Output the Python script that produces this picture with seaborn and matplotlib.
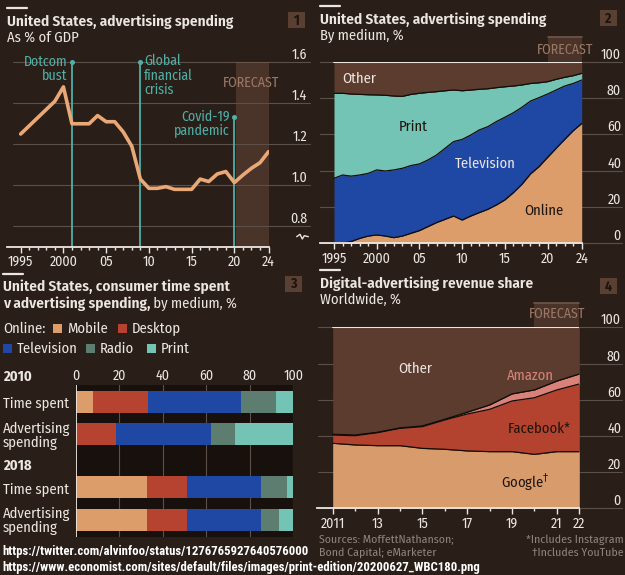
import matplotlib
matplotlib.use("Agg")
import matplotlib.pyplot as plt
from matplotlib.patches import Rectangle
from matplotlib.lines import Line2D
import seaborn as sns
import numpy as np
import pandas as pd

# ---------------- data ----------------
# Panel 1: US advertising spending, % of GDP
years1 = list(range(1995, 2025))
ad_gdp = [1.25, 1.29, 1.33, 1.37, 1.41, 1.48, 1.30, 1.30, 1.30, 1.34,
          1.31, 1.31, 1.26, 1.19, 1.03, 0.985, 0.985, 0.993, 0.98, 0.98,
          0.98, 1.03, 1.018, 1.055, 1.067, 1.013, 1.05, 1.083, 1.11, 1.164]
events = ["Dotcom\nbust", "Global\nfinancial\ncrisis", "Covid-19\npandemic"]
event_years = [2001, 2009, 2020]
event_tops = [1.6, 1.6, 1.335]
p1_yticks = [0.8, 1.0, 1.2, 1.4, 1.6]
p1_ylabels = ["0.8", "1.0", "1.2", "1.4", "1.6"]

# Panel 2: US advertising spending by medium, %
years2 = list(range(1995, 2025))
online = [0, 0, 1, 2.7, 4, 4.6, 4, 3.1, 4, 5.5, 7, 9.2, 11.4, 13.2, 15, 12.8,
          15, 16.9, 18.7, 21.1, 23.9, 27.9, 32.5, 38.2, 42.2, 47.3, 52.3, 57.2, 62, 66]
television = [35.8, 37.6, 36.0, 34.9, 34.5, 35.8, 35.8, 37.3, 37.3, 37.3, 36.7, 36.7,
              37.2, 39.1, 41.0, 44.4, 44.6, 45.5, 45.5, 45.9, 45.5, 44.0, 42.4, 40.1,
              38.0, 34.9, 32.1, 29.4, 26.0, 23.9]
print_ = [46.8, 45.0, 45.2, 44.4, 43.3, 41.3, 41.7, 40.7, 39.6, 39.2, 38.9, 37.2,
          34.9, 31.7, 28.4, 26.8, 24.8, 22.4, 20.9, 18.7, 16.8, 14.7, 12.3, 9.7,
          8.2, 6.8, 5.9, 4.8, 4.3, 3.7]
other2 = [17.4, 17.4, 17.8, 18, 18.2, 18.3, 18.5, 18.9, 19.1, 18, 17.4, 16.9, 16.5,
          16, 15.6, 16, 15.6, 15.2, 14.9, 14.3, 13.8, 13.4, 12.8, 12, 11.6, 11, 9.7,
          8.6, 7.7, 6.4]
time_ticks = [1995, 2000, 2005, 2010, 2015, 2020, 2024]
time_labels = ["1995", "2000", "05", "10", "15", "20", "24"]

# Panel 3: time spent v advertising spending, %
media = ["Mobile", "Desktop", "Television", "Radio", "Print"]
time_2010 = [8, 25, 43, 16, 8]
ad_2010 = [0, 18.6, 43.4, 11.2, 26.8]
time_2018 = [32.7, 18.6, 33.9, 12.1, 2.7]
ad_2018 = [32.7, 18.6, 33.9, 8.1, 6.7]
row_labels = ["Time spent", "Advertising\nspending", "Time spent", "Advertising\nspending"]
p3_ticks = [0, 20, 40, 60, 80, 100]

# Panel 4: digital-advertising revenue share, worldwide %
years4 = list(range(2011, 2023))
google = [35.9, 35, 34.6, 34.6, 33.1, 32.6, 31.7, 31.3, 31.3, 29.8, 31.3, 31.3]
facebook = [4.6, 5.1, 7.2, 9.6, 12.0, 16.2, 20.4, 23.4, 28.0, 31.3, 34.1, 37.4]
amazon = [0.4, 0.4, 0.2, 0.2, 0.4, 0.4, 1.0, 2.4, 3.9, 4.3, 4.9, 5.5]
p4_ticks = [2011, 2013, 2015, 2017, 2019, 2021, 2022]
p4_labels = ["2011", "13", "15", "17", "19", "21", "22"]
pct_ticks = [0, 20, 40, 60, 80, 100]

# ---------------- style ----------------
W, H = 625, 575
sns.set_theme(style="dark")
FONT = ["Fira Sans Condensed", "DejaVu Sans"]
plt.rcParams["font.family"] = FONT

BG = "#2a1f18"
GRID = "#5c5048"
TXT = "#ece6e1"
DARK = "#1d140e"
TEAL = "#4fb0a7"
LINEC = "#eaa877"
FBOX = "#4a3328"
FLINE = "#70574a"
FTXT = "#9b7866"
TAB = "#5a3f33"
GREY = "#8f837b"
C_ONLINE = "#dc9d6b"
C_TV = "#1f48a5"
C_PRINT = "#74c4b6"
C_OTHER = "#5b3c2f"
C_DESK = "#b5432f"
C_RADIO = "#5d7d71"
C_GOOGLE = "#d89c6c"
C_FB = "#b3432e"
C_AMZ = "#d9827a"
EDGE = "#120c08"
TITLE_FS = 11

fig = plt.figure(figsize=(W / 100, H / 100), dpi=100, facecolor=BG)


def add_ax(l, t, r, b):
    ax = fig.add_axes([l / W, 1 - b / H, (r - l) / W, (b - t) / H])
    ax.set_facecolor("none")
    ax.grid(False)
    for s in ax.spines.values():
        s.set_visible(False)
    return ax


def ftext(x, y, s, **kw):
    kw.setdefault("color", TXT)
    return fig.text(x / W, 1 - y / H, s, **kw)


def frect(x0, y0, x1, y1, **kw):
    fig.add_artist(Rectangle((x0 / W, 1 - y1 / H), (x1 - x0) / W, (y1 - y0) / H,
                             transform=fig.transFigure, **kw))


def fline(xs, ys, **kw):
    fig.add_artist(Line2D([x / W for x in xs], [1 - y / H for y in ys],
                          transform=fig.transFigure, **kw))


def time_axis(ax, majors, labels, minors):
    ax.spines["bottom"].set_visible(True)
    ax.spines["bottom"].set_color(TXT)
    ax.spines["bottom"].set_linewidth(1.3)
    ax.spines["bottom"].set_zorder(5)
    ax.set_xticks(majors)
    ax.set_xticklabels(labels)
    ax.set_xticks(minors, minor=True)
    ax.tick_params(axis="x", which="major", length=4.5, width=1, color=TXT,
                   pad=1.5, labelsize=10, labelcolor=TXT, bottom=True)
    ax.tick_params(axis="x", which="minor", length=2.5, width=1, color=TXT, bottom=True)


def right_axis(ax, ticks, labels, ax_l, ax_r, g_l, g_r, lab_r):
    ax.yaxis.tick_right()
    ax.set_yticks(ticks)
    ax.set_yticklabels(labels)
    ax.tick_params(axis="y", length=0, pad=(lab_r - ax_r) * 0.72,
                   labelsize=10, labelcolor=TXT)
    for lab in ax.get_yticklabels():
        lab.set_ha("right")
        lab.set_va("bottom")
    w = ax_r - ax_l
    for t in ticks:
        ax.axhline(t, xmin=(g_l - ax_l) / w, xmax=(g_r - ax_l) / w, color=GRID,
                   lw=0.8, zorder=0.5, clip_on=False)


def header(x, y_base, title, sub, num, tabx, taby):
    fline([x, x + 20], [y_base - 18, y_base - 18], color=TXT, lw=1.6)
    ftext(x, y_base, title, fontsize=TITLE_FS, fontweight="semibold", va="baseline")
    if sub:
        ftext(x, y_base + 16, sub, fontsize=10.5, va="baseline")
    frect(tabx, taby, tabx + 17, taby + 16, color=TAB, lw=0)
    ftext(tabx + 8.5, taby + 8.5, num, fontsize=10, fontweight="bold", color=DARK,
          ha="center", va="center")


# ---------------- panel 1 ----------------
L1, T1, R1, B1 = 7, 62.3, 269, 246.7
ax1 = add_ax(L1, T1, R1, B1)
ax1.set_xlim(1993.4, 2024.05)
ax1.set_ylim(0.7, 1.6)
ax1.axvspan(2020.2, 2024.05, color=FBOX, lw=0, zorder=0.2)
right_axis(ax1, p1_yticks, p1_ylabels, L1, R1, 13, 310, 307)
ax1.plot([2020.2, 2024.05], [1.6, 1.6], color=FLINE, lw=1.2, zorder=0.6)
ax1.text(2021.93, 1.499, "FORECAST", color=FTXT, fontsize=10, ha="center", va="center")
for lab, yr, top in zip(events, event_years, event_tops):
    ax1.plot([yr, yr], [0.7, top], color=TEAL, lw=1.3, zorder=2)
    ax1.plot([yr], [top], "o", color=TEAL, ms=2.6, zorder=2, clip_on=False)
    if yr == 2009:
        ax1.text(yr + 0.45, top + 0.04, lab, color=TEAL, fontsize=10, ha="left",
                 va="top", linespacing=1.0)
    else:
        ax1.text(yr - 0.5, top + 0.036, lab, color=TEAL, fontsize=10, ha="right",
                 va="top", linespacing=1.0, multialignment="right")
df1 = pd.DataFrame({"year": years1, "share": ad_gdp})
sns.lineplot(data=df1, x="year", y="share", ax=ax1, color=LINEC, lw=2.6, zorder=3)
ax1.set_xlabel("")
ax1.set_ylabel("")
time_axis(ax1, time_ticks, time_labels, years1)
# axis break symbol
zx = [296.7, 300, 302.3, 304.3, 308.3]
zy = [236.7, 234.3, 239, 235.7, 236.7]
fline(zx, zy, color=TXT, lw=1.0)
header(7, 25.7, "United States, advertising spending", "As % of GDP", "1", 288, 12)

# ---------------- panel 2 ----------------
L2, T2, R2, B2 = 320, 61.7, 581.7, 243.3
ax2 = add_ax(L2, T2, R2, B2)
ax2.set_xlim(1993.36, 2024)
ax2.set_ylim(0, 100)
right_axis(ax2, pct_ticks, [str(t) for t in pct_ticks], L2, R2, 320, 622, 621)
y = np.array(years2)
c1 = np.array(online)
c2 = c1 + np.array(television)
c3 = c2 + np.array(print_)
c4 = c3 + np.array(other2)
ax2.fill_between(y, 0, c1, color=C_ONLINE, lw=0, zorder=1)
ax2.fill_between(y, c1, c2, color=C_TV, lw=0, zorder=1)
ax2.fill_between(y, c2, c3, color=C_PRINT, lw=0, zorder=1)
ax2.fill_between(y, c3, c4, color=C_OTHER, lw=0, zorder=1)
for c in (c1, c2, c3):
    sns.lineplot(x=y, y=c, ax=ax2, color=EDGE, lw=0.9, zorder=2)
sns.lineplot(x=y, y=c4, ax=ax2, color=TXT, lw=1.5, zorder=2)
ax2.set_xlabel("")
ax2.set_ylabel("")
ax2.axvspan(2020, 2024, ymin=1.0, ymax=1 + 24.7 / 181.6, color=FBOX, lw=0,
            clip_on=False, zorder=0.2)
ax2.plot([2020, 2024], [113.6, 113.6], color=FLINE, lw=1.2, clip_on=False)
ax2.text(2022.05, 106.4, "FORECAST", color=FTXT, fontsize=10, ha="center", va="center")
ax2.text(1997.9, 90.5, "Other", color=TXT, fontsize=10.5, ha="center", va="center")
ax2.text(2004.3, 63.9, "Print", color=DARK, fontsize=10.5, ha="center", va="center")
ax2.text(2012.7, 43.7, "Television", color=TXT, fontsize=10.5, ha="center", va="center")
ax2.text(2019.6, 18, "Online", color=DARK, fontsize=10.5, ha="center", va="center")
time_axis(ax2, time_ticks, time_labels, years2)
header(320, 24, "United States, advertising spending", "By medium, %", "2", 600, 10)

# ---------------- panel 3 ----------------
L3, T3, R3, B3 = 76, 385, 293.3, 537
ax3 = add_ax(L3, T3, R3, B3)
ax3.set_facecolor("#17100c")
ax3.set_xlim(0, 100)
pos = [0, 1, 2.6, 3.6]
ax3.set_ylim(4.12, -0.506)
for v in p3_ticks[1:]:
    ax3.axvline(v, color=GRID, lw=0.8, zorder=0.5)
ax3.axvline(0, color=TXT, lw=1.3, zorder=3)
colors3 = [C_ONLINE, C_DESK, C_TV, C_RADIO, C_PRINT]
rows = [time_2010, ad_2010, time_2018, ad_2018]
for p, vals in zip(pos, rows):
    left = 0
    for v, col in zip(vals, colors3):
        ax3.barh(p, v, left=left, height=0.67, color=col, lw=0, zorder=2)
        left += v
ax3.xaxis.tick_top()
ax3.set_xticks(p3_ticks)
ax3.set_xticklabels([str(t) for t in p3_ticks])
ax3.tick_params(axis="x", length=0, pad=1.5, labelsize=10, labelcolor=TXT)
ax3.set_yticks(pos)
ax3.set_yticklabels(row_labels)
ax3.tick_params(axis="y", length=0, pad=(76 - 3) * 0.72, labelsize=10.5, labelcolor=TXT)
for lab in ax3.get_yticklabels():
    lab.set_ha("left")
    lab.set_linespacing(0.95)
ftext(3, 381, "2010", fontsize=10.5, fontweight="bold", va="baseline")
ftext(3, 470, "2018", fontsize=10.5, fontweight="bold", va="baseline")
# title
fline([3, 23], [274, 274], color=TXT, lw=1.6)
ftext(3, 290.7, "United States, consumer time spent", fontsize=TITLE_FS,
      fontweight="semibold", va="baseline")
t3 = ftext(3, 307.7, "v advertising spending,", fontsize=TITLE_FS, fontweight="semibold",
           va="baseline")
ax3.annotate(" by medium, %", xy=(1, 0), xycoords=t3, va="bottom", ha="left",
             color=TXT, fontsize=10.5, annotation_clip=False)
frect(285, 276, 302, 292, color=TAB, lw=0)
ftext(293.5, 284, "3", fontsize=10, fontweight="bold", color=DARK, ha="center", va="center")
# legend
ftext(3, 333, "Online:", fontsize=10.5, va="baseline")
leg = [(53, 333, "Mobile", C_ONLINE), (118, 333, "Desktop", C_DESK),
       (3, 353, "Television", C_TV), (86, 353, "Radio", C_RADIO), (147, 353, "Print", C_PRINT)]
for x, yb, name, col in leg:
    frect(x, yb - 9, x + 9, yb, color=col, lw=0)
    ftext(x + 14, yb, name, fontsize=10.5, va="baseline")

# ---------------- panel 4 ----------------
L4, T4, R4, B4 = 316.7, 327.3, 579.3, 508.3
ax4 = add_ax(L4, T4, R4, B4)
ax4.set_xlim(2010.286, 2022)
ax4.set_ylim(0, 100)
right_axis(ax4, pct_ticks, [str(t) for t in pct_ticks], L4, R4, 318, 622, 621)
y4 = np.array(years4)
g = np.array(google)
f = g + np.array(facebook)
a = f + np.array(amazon)
ax4.fill_between(y4, 0, g, color=C_GOOGLE, lw=0, zorder=1)
ax4.fill_between(y4, g, f, color=C_FB, lw=0, zorder=1)
ax4.fill_between(y4, f, a, color=C_AMZ, lw=0, zorder=1)
ax4.fill_between(y4, a, 100, color=C_OTHER, lw=0, zorder=1)
for c in (g, f, a):
    sns.lineplot(x=y4, y=c, ax=ax4, color=EDGE, lw=0.9, zorder=2)
ax4.plot([2011, 2022], [100, 100], color=TXT, lw=1.5, zorder=2)
ax4.set_xlabel("")
ax4.set_ylabel("")
ax4.axvspan(2020, 2022, ymin=1.0, ymax=1 + 24.3 / 181, color=FBOX, lw=0,
            clip_on=False, zorder=0.2)
ax4.plot([2020, 2022], [113.4, 113.4], color=FLINE, lw=1.2, clip_on=False)
ax4.text(2021.0, 107.2, "FORECAST", color=FTXT, fontsize=10, ha="center", va="center")
ax4.text(2014.7, 77, "Other", color=TXT, fontsize=10.5, ha="center", va="center")
ax4.text(2019.8, 73.3, "Amazon", color=C_AMZ, fontsize=10.5, ha="center", va="center")
ax4.text(2020.2, 43.8, "Facebook*", color=DARK, fontsize=10.5, ha="center", va="center")
ax4.text(2019.6, 14.2, "Google$^{\u2020}$", color=DARK, fontsize=10.5, ha="center",
         va="center")
time_axis(ax4, p4_ticks, p4_labels, years4)
header(320, 288.3, "Digital-advertising revenue share", "Worldwide, %", "4", 600, 278)

# ---------------- footer ----------------
FOOT = 8.5
ftext(319, 543, "Sources: MoffettNathanson;", fontsize=FOOT, color=GREY, va="baseline")
ftext(319, 556, "Bond Capital; eMarketer", fontsize=FOOT, color=GREY, va="baseline")
ftext(624, 543, "*Includes Instagram", fontsize=FOOT, color=GREY, va="baseline", ha="right")
ftext(624, 556, "\u2020Includes YouTube", fontsize=FOOT, color=GREY, va="baseline", ha="right")
URLF = ["Roboto Condensed", "DejaVu Sans"]
ftext(2, 554.7, "https://twitter.com/alvinfoo/status/1276765927640576000", fontsize=9.2,
      family=URLF, fontweight="bold", color="#ffffff", va="baseline")
ftext(2, 571.3, "https://www.economist.com/sites/default/files/images/print-edition/20200627_WBC180.png",
      fontsize=9.2, family=URLF, fontweight="bold", color="#ffffff", va="baseline")

fig.savefig("out.png", dpi=100, facecolor=BG)
